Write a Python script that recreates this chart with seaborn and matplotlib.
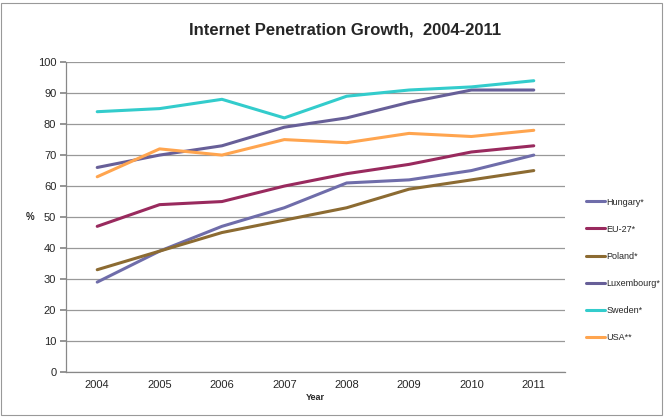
import matplotlib
matplotlib.use("Agg")
import matplotlib.pyplot as plt
import seaborn as sns
import pandas as pd
from matplotlib.patches import Rectangle

years = ["2004", "2005", "2006", "2007", "2008", "2009", "2010", "2011"]
hungary = [29, 39, 47, 53, 61, 62, 65, 70]
eu27 = [47, 54, 55, 60, 64, 67, 71, 73]
poland = [33, 39, 45, 49, 53, 59, 62, 65]
luxembourg = [66, 70, 73, 79, 82, 87, 91, 91]
sweden = [84, 85, 88, 82, 89, 91, 92, 94]
usa = [63, 72, 70, 75, 74, 77, 76, 78]

series_names = ["Hungary*", "EU-27*", "Poland*", "Luxembourg*", "Sweden*", "USA**"]
series_values = [hungary, eu27, poland, luxembourg, sweden, usa]
colors = ["#6F6DAA", "#992A5E", "#8C6B32", "#675F98", "#33CCCC", "#FFA54F"]

rows = []
for name, vals in zip(series_names, series_values):
    for i, (y, v) in enumerate(zip(years, vals)):
        rows.append({"Year": y, "idx": i, "value": v, "series": name})
df = pd.DataFrame(rows)

sns.set_theme(style="white")
plt.rcParams["font.family"] = ["Liberation Sans", "DejaVu Sans"]

fig = plt.figure(figsize=(6.67, 4.17), dpi=100)
ax = fig.add_axes([0.099, 0.108, 0.748, 0.743])

sns.lineplot(data=df, x="idx", y="value", hue="series", hue_order=series_names,
             palette=colors, linewidth=2.2, ax=ax, legend=True)

ax.set_xlim(-0.5, len(years) - 0.5)
ax.set_ylim(0, 100)
ax.set_yticks(range(0, 101, 10))
ax.set_yticklabels([str(v) for v in range(0, 101, 10)], fontsize=8)
ax.set_xticks(range(len(years)))
ax.set_xticklabels(years, fontsize=8)
ax.tick_params(axis="x", length=0, pad=6)
ax.set_xticks([i - 0.5 for i in range(len(years) + 1)], minor=True)
ax.tick_params(axis="x", which="minor", length=4, color="#888888", direction="out")
ax.tick_params(axis="y", length=4, color="#888888", direction="out", pad=3, left=True)
ax.yaxis.grid(True, color="#999999", linewidth=0.9)
ax.xaxis.grid(False)
for s in ["top", "right"]:
    ax.spines[s].set_visible(False)
for s in ["left", "bottom"]:
    ax.spines[s].set_color("#888888")
    ax.spines[s].set_linewidth(0.9)

ax.set_xlabel("Year", fontsize=6.5, fontweight="bold", labelpad=2)
ax.set_ylabel("%", fontsize=7, fontweight="bold", rotation=0, va="center", ha="center")
ax.yaxis.set_label_coords(-0.072, 0.5)
fig.text(0.517, 0.928, "Internet Penetration Growth,  2004-2011", fontsize=12,
         fontweight="bold", ha="center", va="center")

handles, labels = ax.get_legend_handles_labels()
ax.legend(handles, labels, loc="center left", bbox_to_anchor=(1.025, 0.33),
          frameon=False, fontsize=6.5, handlelength=2.2, handletextpad=0.1,
          labelspacing=2.0)

fig.patches.append(Rectangle((0.002, 0.004), 0.99, 0.99, transform=fig.transFigure,
                             fill=False, edgecolor="#999999", linewidth=0.8))

fig.savefig("out.png", dpi=100)
